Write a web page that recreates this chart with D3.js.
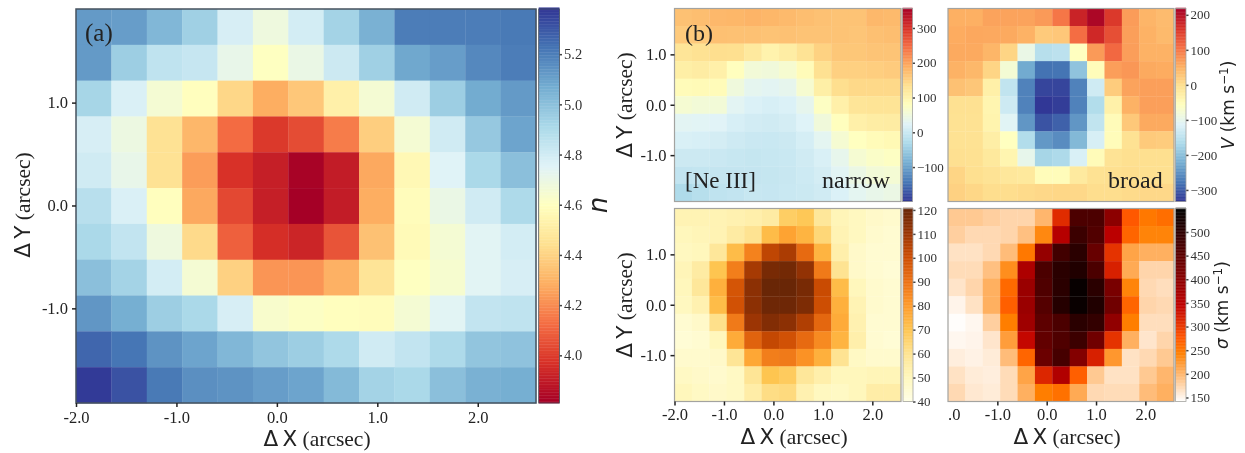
<!DOCTYPE html>
<html>
<head>
<meta charset="utf-8">
<title>[Ne III] maps</title>
<script src="https://cdn.jsdelivr.net/npm/d3@7"></script>
<style>
  body { margin: 0; background: #fff; }
  svg { display: block; filter: blur(0.45px); }
  text { font-family: "Liberation Serif", serif; fill: #222; }
  .sans { font-family: "DejaVu Sans", sans-serif; }
  .cb-tick { fill: #333; }
</style>
</head>
<body>
<svg id="chart" width="1245" height="453"></svg>
<script>
// values, top row first, 13 spaxels per row
const nValues = [
  [5.12, 5.11, 5.03, 4.94, 4.78, 4.68, 4.79, 4.93, 5.05, 5.20, 5.20, 5.20, 5.21],
  [5.12, 4.95, 4.85, 4.83, 4.71, 4.60, 4.70, 4.81, 4.94, 5.08, 5.11, 5.17, 5.20],
  [4.92, 4.77, 4.65, 4.59, 4.41, 4.28, 4.36, 4.52, 4.65, 4.80, 4.95, 5.07, 5.12],
  [4.78, 4.69, 4.45, 4.31, 4.12, 3.99, 4.04, 4.16, 4.38, 4.65, 4.80, 4.97, 5.09],
  [4.80, 4.71, 4.45, 4.24, 3.97, 3.91, 3.82, 3.90, 4.27, 4.56, 4.75, 4.91, 5.00],
  [4.87, 4.77, 4.59, 4.27, 4.03, 3.91, 3.81, 3.90, 4.28, 4.58, 4.70, 4.80, 4.90],
  [4.91, 4.84, 4.68, 4.42, 4.09, 3.96, 3.93, 4.06, 4.34, 4.57, 4.65, 4.74, 4.79],
  [5.00, 4.93, 4.79, 4.65, 4.39, 4.22, 4.22, 4.29, 4.46, 4.60, 4.64, 4.74, 4.78],
  [5.13, 5.06, 4.95, 4.91, 4.78, 4.63, 4.61, 4.59, 4.58, 4.65, 4.74, 4.84, 4.85],
  [5.26, 5.22, 5.14, 5.09, 5.03, 4.98, 4.95, 4.90, 4.80, 4.84, 4.90, 4.98, 4.99],
  [5.37, 5.31, 5.21, 5.15, 5.14, 5.11, 5.09, 5.02, 4.93, 4.91, 5.00, 5.05, 5.06]
];
const vNarrow = [
  [168, 172, 178, 180, 183, 180, 176, 172, 168, 166, 166, 178, 176],
  [158, 158, 170, 168, 168, 166, 168, 166, 166, 166, 164, 170, 172],
  [125, 130, 135, 134, 118, 100, 110, 128, 150, 162, 162, 165, 165],
  [108, 112, 105, 80, 55, 52, 62, 85, 132, 152, 152, 154, 157],
  [85, 88, 85, 50, 32, 28, 34, 62, 108, 135, 142, 142, 142],
  [60, 55, 55, 28, 18, 14, 18, 34, 75, 105, 125, 127, 127],
  [28, 26, 24, 14, 8, 6, 10, 22, 52, 80, 105, 110, 112],
  [16, 14, 10, 4, 0, -1, 2, 12, 30, 60, 78, 85, 90],
  [2, 2, 0, -3, -5, -3, -1, 6, 16, 35, 60, 70, 75],
  [-8, -7, -6, -6, -6, -5, -2, 3, 10, 27, 42, 55, 58],
  [-28, -20, -12, -8, -3, -4, -1, 1, 6, 18, 30, 38, 42]
];
const vBroad = [
  [50, 50, 62, 62, 62, 70, 100, 178, 210, 155, 68, 45, 38],
  [54, 58, 57, 56, 48, 22, 25, 108, 172, 135, 65, 48, 40],
  [56, 56, 44, 10, -95, -155, -150, -58, 70, 112, 66, 48, 48],
  [48, 42, 10, -78, -225, -280, -278, -195, -52, 66, 72, 56, 54],
  [32, 26, -30, -145, -265, -320, -320, -265, -130, 20, 62, 65, 65],
  [-5, -5, -40, -132, -265, -332, -327, -265, -160, -32, 48, 65, 65],
  [-6, -6, -38, -110, -245, -308, -295, -245, -145, -50, 24, 56, 56],
  [-6, -6, -28, -58, -160, -243, -255, -208, -122, -52, -6, 22, 20],
  [-3, -5, -18, -40, -100, -172, -165, -120, -50, -8, -2, -2, -2],
  [10, -2, -8, -15, -18, -52, -52, -20, -6, -2, 0, -2, -2],
  [14, 8, 0, 0, 3, 6, 8, 6, 0, 0, 3, 6, 6]
];
const sigmaNarrow = [
  [52, 52, 52, 53, 54, 56, 67, 69, 58, 51, 49, 47, 46],
  [50, 51, 52, 56, 60, 72, 78, 74, 64, 52, 49, 46, 45],
  [49, 50, 58, 72, 86, 103, 107, 92, 74, 54, 47, 45, 45],
  [51, 56, 70, 87, 108, 117, 118, 112, 88, 60, 47, 45, 44],
  [50, 58, 75, 98, 113, 120, 120, 117, 101, 72, 50, 46, 45],
  [49, 53, 72, 99, 113, 119, 119, 116, 100, 75, 52, 46, 45],
  [45, 47, 61, 88, 110, 115, 113, 106, 93, 76, 53, 45, 45],
  [44, 45, 50, 76, 94, 102, 99, 92, 84, 74, 54, 45, 44],
  [46, 46, 47, 59, 77, 87, 88, 82, 75, 60, 48, 46, 46],
  [48, 47, 46, 48, 59, 70, 68, 58, 54, 50, 50, 51, 51],
  [50, 48, 47, 48, 55, 62, 63, 53, 49, 48, 50, 55, 55]
];
const sigmaBroad = [
  [185, 185, 180, 175, 175, 200, 310, 468, 468, 400, 275, 250, 258],
  [180, 172, 172, 175, 192, 237, 355, 487, 463, 350, 265, 240, 240],
  [165, 165, 172, 195, 250, 390, 480, 505, 440, 305, 215, 205, 205],
  [170, 170, 192, 232, 365, 470, 505, 515, 470, 320, 210, 175, 175],
  [163, 175, 205, 262, 385, 465, 505, 542, 505, 420, 240, 172, 168],
  [150, 165, 205, 270, 385, 460, 510, 540, 515, 430, 265, 175, 172],
  [143, 148, 180, 245, 380, 450, 470, 505, 495, 395, 245, 168, 168],
  [148, 150, 162, 220, 340, 445, 465, 485, 430, 305, 205, 162, 175],
  [155, 152, 157, 195, 265, 435, 475, 410, 320, 225, 165, 172, 185],
  [165, 157, 155, 170, 215, 315, 360, 270, 185, 165, 165, 185, 200],
  [172, 160, 157, 170, 205, 245, 255, 210, 172, 170, 170, 195, 205]
];

const xTicks = [-2, -1, 0, 1, 2];
const yTicks = [1, 0, -1];
const xTicksBroad = [-1, 0, 1, 2];
const nTicks = [4.0, 4.2, 4.4, 4.6, 4.8, 5.0, 5.2];
const vNarrowTicks = [-100, 0, 100, 200, 300];
const vBroadTicks = [-300, -200, -100, 0, 100, 200];
const sigmaNarrowTicks = [40, 50, 60, 70, 80, 90, 100, 110, 120];
const sigmaBroadTicks = [150, 200, 250, 300, 350, 400, 450, 500];

const svg = d3.select('#chart');

// matplotlib's RdYlBu is plain linear between the 11 brewer colours, d3's own interpolator is a spline
const rdYlBu = d3.piecewise(d3.interpolateRgb, d3.schemeRdYlBu[11]);
const rdYlBuR = t => rdYlBu(1 - t);
const ylOrBr = d3.piecewise(d3.interpolateRgb, d3.schemeYlOrBr[9]);
// gist_heat_r
const gistHeatR = d3.scaleLinear()
  .domain([0, 0.25, 1 / 3, 0.5, 1])
  .range(['#ffffff', '#ff8000', '#ff5500', '#bf0000', '#000000'])
  .interpolate(d3.interpolateRgb);

// the arcsec ticks use a plain hyphen, the colour bars a real minus
const hyphen = d => d.toFixed(1);
const minus = d => d3.format('d')(d).replace('-', '\u2212');

function drawPanel(p) {
  const g = svg.append('g');
  const x = d3.scaleLinear().domain([-2, 2.58]).range([p.x0, p.x1]);
  const y = d3.scaleLinear().domain([-1.92, 1.91]).range([p.y1, p.y0]);
  const col = d3.scaleBand().domain(d3.range(13)).range([p.x0, p.x1]);
  const row = d3.scaleBand().domain(d3.range(11)).range([p.y0, p.y1]);
  const color = d3.scaleSequential(p.cmap).domain(p.domain);

  g.selectAll('g.row').data(p.data).join('g')
    .selectAll('rect')
    .data((d, i) => d.map((v, j) => ({ v, i, j })))
    .join('rect')
    .attr('x', d => col(d.j))
    .attr('y', d => row(d.i))
    .attr('width', col.bandwidth() + 0.3)
    .attr('height', row.bandwidth() + 0.3)
    .attr('fill', d => color(d.v));

  g.append('rect')
    .attr('x', p.x0).attr('y', p.y0)
    .attr('width', p.x1 - p.x0).attr('height', p.y1 - p.y0)
    .attr('fill', 'none').attr('stroke', p.frame).attr('stroke-width', p.frameW);

  if (p.xAxis) {
    const ax = g.append('g').attr('transform', `translate(0,${p.y1})`)
      .call(d3.axisBottom(x).tickValues(p.xAxis).tickFormat(hyphen).tickSize(4).tickPadding(p.xPad));
    styleAxis(ax, p.tickFont, '#222');
  }
  if (p.yAxis) {
    const ay = g.append('g').attr('transform', `translate(${p.x0},0)`)
      .call(d3.axisLeft(y).tickValues(p.yAxis).tickFormat(hyphen).tickSize(4).tickPadding(4));
    styleAxis(ay, p.tickFont, '#222');
  }

  // colour bar, 256 levels like matplotlib
  const cb = d3.scaleLinear().domain(p.domain).range([p.y1, p.y0]);
  const levels = d3.range(256).map(i => p.domain[0] + (p.domain[1] - p.domain[0]) * i / 255);
  const h = (p.y1 - p.y0) / 256;
  g.append('g').selectAll('rect').data(levels).join('rect')
    .attr('x', p.cbx0)
    .attr('width', p.cbx1 - p.cbx0)
    .attr('y', d => cb(d) - h)
    .attr('height', h + 0.4)
    .attr('fill', d => color(d));
  const ac = g.append('g').attr('transform', `translate(${p.cbx1},0)`)
    .call(d3.axisRight(cb).tickValues(p.cbTicks).tickFormat(p.cbFormat).tickSize(2.5).tickPadding(2));
  styleAxis(ac, p.cbFont, '#444');
  ac.selectAll('text').attr('class', 'cb-tick');
  g.append('rect')
    .attr('x', p.cbx0).attr('y', p.y0)
    .attr('width', p.cbx1 - p.cbx0).attr('height', p.y1 - p.y0)
    .attr('fill', 'none').attr('stroke', p.frame).attr('stroke-width', 0.8);
  return { x, g };
}

function styleAxis(sel, size, tickColor) {
  sel.select('.domain').remove();
  sel.selectAll('.tick line').attr('stroke', tickColor).attr('stroke-width', 1.5);
  sel.selectAll('text').style('font-family', '"Liberation Serif", serif').style('font-size', `${size}px`).attr('fill', '#222');
}

// "Δ X (arcsec)" label, Δ and the letter come out in the math font, the unit in Times
function posLabel(x, y, letter, rotate) {
  const t = svg.append('text')
    .attr('text-anchor', 'middle')
    .attr('transform', `translate(${x},${y})${rotate ? ' rotate(-90)' : ''}`)
    .style('font-size', '21.5px');
  t.append('tspan').attr('class', 'sans').text(`\u0394\u2009${letter}`);
  t.append('tspan').text(' (arcsec)');
}

function cbLabel(x, y, symbol) {
  const t = svg.append('text').attr('class', 'sans')
    .attr('text-anchor', 'middle')
    .attr('transform', `translate(${x},${y}) rotate(-90)`)
    .style('font-size', '17px');
  t.append('tspan').style('font-style', 'italic').text(symbol);
  t.append('tspan').text(' (km s');
  t.append('tspan').attr('dy', -6).style('font-size', '12px').text('\u22121');
  t.append('tspan').attr('dy', 6).text(')');
}

function note(x, y, s, size = 24) {
  svg.append('text').attr('x', x).attr('y', y).style('font-size', `${size}px`).text(s);
}

drawPanel({
  data: nValues, cmap: rdYlBu, domain: [3.81, 5.38],
  x0: 76, x1: 536, y0: 9, y1: 403,
  cbx0: 538.7, cbx1: 559.5,
  xAxis: xTicks, yAxis: yTicks, cbTicks: nTicks, cbFormat: hyphen,
  tickFont: 16.5, cbFont: 14.5, xPad: 4, frame: '#46525e', frameW: 1.5
});
drawPanel({
  data: vNarrow, cmap: rdYlBuR, domain: [-199, 356],
  x0: 674.5, x1: 901, y0: 8.5, y1: 201.5,
  cbx0: 902.5, cbx1: 912.5,
  yAxis: yTicks, cbTicks: vNarrowTicks, cbFormat: minus,
  tickFont: 16.5, cbFont: 13, xPad: 3, frame: '#a3a3a0', frameW: 1.2
});
drawPanel({
  data: vBroad, cmap: rdYlBuR, domain: [-333, 218],
  x0: 948, x1: 1174, y0: 8.5, y1: 201.5,
  cbx0: 1175.5, cbx1: 1186,
  cbTicks: vBroadTicks, cbFormat: minus,
  tickFont: 16.5, cbFont: 13, xPad: 3, frame: '#a3a3a0', frameW: 1.2
});
drawPanel({
  data: sigmaNarrow, cmap: ylOrBr, domain: [40, 120.6],
  x0: 674.5, x1: 901, y0: 208.5, y1: 401.5,
  cbx0: 903, cbx1: 913,
  xAxis: xTicks, yAxis: yTicks, cbTicks: sigmaNarrowTicks, cbFormat: d3.format('d'),
  tickFont: 16.5, cbFont: 13, xPad: 3, frame: '#a3a3a0', frameW: 1.2
});
drawPanel({
  data: sigmaBroad, cmap: gistHeatR, domain: [141.5, 549.6],
  x0: 948, x1: 1174, y0: 208.5, y1: 401.5,
  cbx0: 1175.5, cbx1: 1186,
  xAxis: xTicksBroad, cbTicks: sigmaBroadTicks, cbFormat: d3.format('d'),
  tickFont: 16.5, cbFont: 13, xPad: 3, frame: '#a3a3a0', frameW: 1.2
});
// the -2.0 label of this panel is cut by the panel on its left, only ".0" is left
note(948, 420, '.0', 16.5);

posLabel(317, 446, 'X', false);
posLabel(794, 444, 'X', false);
posLabel(1067, 444, 'X', false);
posLabel(30, 205, 'Y', true);
posLabel(632, 105, 'Y', true);
posLabel(632, 305, 'Y', true);

svg.append('text').attr('class', 'sans')
  .attr('text-anchor', 'middle')
  .attr('transform', 'translate(607,205) rotate(-90)')
  .style('font-size', '26px').style('font-style', 'italic').text('n');
cbLabel(1234, 105, 'V');
cbLabel(1228, 305, '\u03c3');

note(85, 41, '(a)', 25);
note(685, 41, '(b)', 24);
note(685, 188, '[Ne III]', 23);
note(822, 188, 'narrow', 24);
note(1108, 188, 'broad', 24);
</script>
</body>
</html>
